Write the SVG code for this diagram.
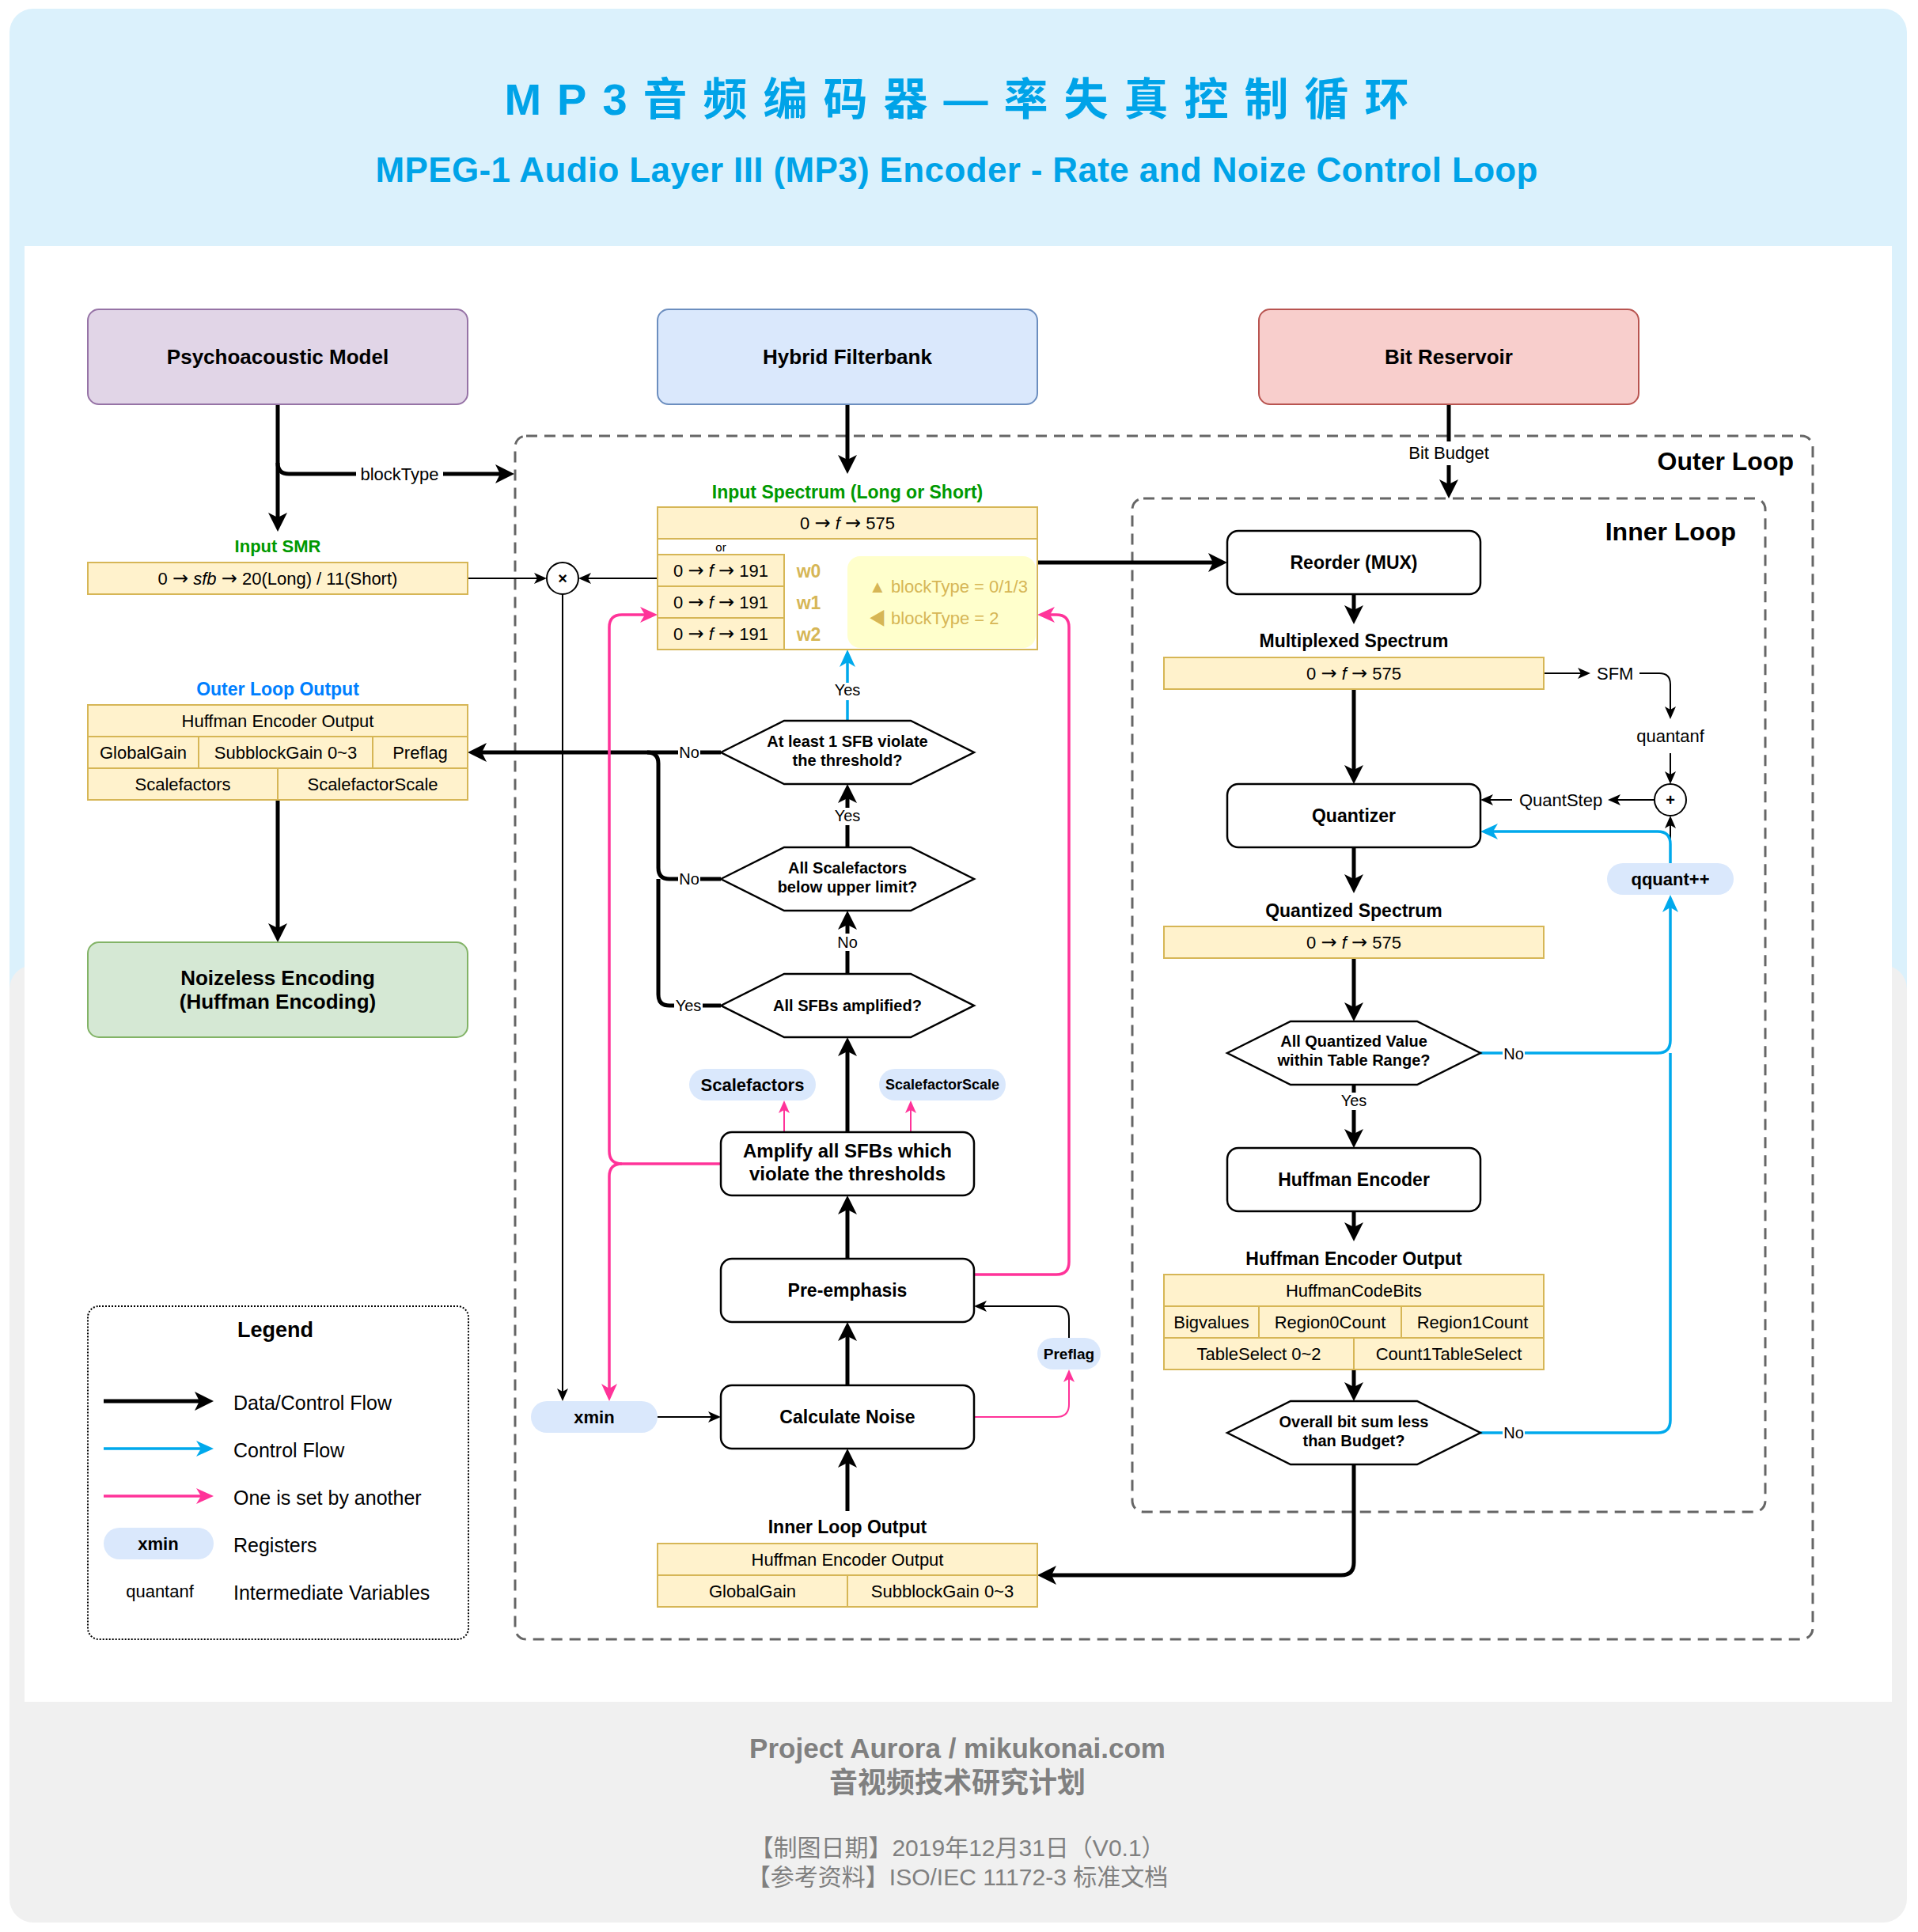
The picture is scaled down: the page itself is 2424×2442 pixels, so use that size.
<svg xmlns="http://www.w3.org/2000/svg" width="2424" height="2442" viewBox="0 0 2424 2442">
<style>
text{font-family:"Liberation Sans",Arial,"Noto Sans CJK SC",sans-serif;fill:#000}
.m{text-anchor:middle}
.b{font-weight:bold}
.s18{font-size:18px}
.s20{font-size:20px}
.s22{font-size:22px}
.s23{font-size:23px}
.s25{font-size:25px}
.s26{font-size:26px}
.s32{font-size:32px}
.ar{font-family:"DejaVu Sans",sans-serif;font-size:24px;font-style:normal}
.box{fill:#fff;stroke:#000;stroke-width:2.5}
.tbl{fill:#fff2cc;stroke:#d6b656;stroke-width:2}
.reg{fill:#dae8fc}
.lb{fill:#fff}
.ck{fill:none;stroke:#000;stroke-width:5}
.ct{fill:none;stroke:#000;stroke-width:2}
.cb{fill:none;stroke:#00a9ec;stroke-width:3.5}
.cp{fill:none;stroke:#ff3399;stroke-width:3.5}
.cpt{fill:none;stroke:#ff3399;stroke-width:2}
.loop{fill:none;stroke:#666;stroke-width:3;stroke-dasharray:14 9}
.gold{fill:#d6b656}
.ft{fill:#808080;font-family:"Liberation Sans","Noto Sans CJK SC",sans-serif}
</style>
<defs>
<marker id="ak" markerUnits="userSpaceOnUse" markerWidth="26" markerHeight="26" refX="16" refY="12" orient="auto" overflow="visible"><path d="M0,0 L24,12 L0,24 L6,12 z" fill="#000"/></marker>
<marker id="as" markerUnits="userSpaceOnUse" markerWidth="18" markerHeight="16" refX="12" refY="7" orient="auto" overflow="visible"><path d="M0,0 L16,7 L0,14 L4,7 z" fill="#000"/></marker>
<marker id="ab" markerUnits="userSpaceOnUse" markerWidth="24" markerHeight="22" refX="16" refY="10" orient="auto" overflow="visible"><path d="M0,0 L22,10 L0,20 L6,10 z" fill="#00a9ec"/></marker>
<marker id="ap" markerUnits="userSpaceOnUse" markerWidth="24" markerHeight="22" refX="16" refY="10" orient="auto" overflow="visible"><path d="M0,0 L22,10 L0,20 L6,10 z" fill="#ff3399"/></marker>
<marker id="aps" markerUnits="userSpaceOnUse" markerWidth="18" markerHeight="16" refX="12" refY="7" orient="auto" overflow="visible"><path d="M0,0 L16,7 L0,14 L4,7 z" fill="#ff3399"/></marker>
</defs>

<g id="background">
<rect x="0" y="0" width="2424" height="2442" fill="#fff"/>
<rect x="12" y="11" width="2398" height="1300" rx="30" fill="#dbf1fc"/>
<rect x="12" y="1220" width="2398" height="1210" rx="30" fill="#f0f0f0"/>
<rect x="31" y="311" width="2360" height="1840" fill="#fff"/>
</g>

<g id="title">
<text x="1219" y="145" class="m b" style="font-size:56px;letter-spacing:20px;fill:#00a3e8;font-family:'Liberation Sans','Noto Sans CJK SC',sans-serif">MP3音频编码器—率失真控制循环</text>
<text x="1209" y="230" class="m b" style="font-size:44px;fill:#00a3e8" textLength="1469" lengthAdjust="spacing">MPEG-1 Audio Layer III (MP3) Encoder - Rate and Noize Control Loop</text>
</g>

<g id="outer-loop">
<rect x="651" y="551" width="1640" height="1521" rx="14" class="loop"/>
<text x="2267" y="594" class="b s32" text-anchor="end">Outer Loop</text>
</g>
<g id="inner-loop">
<rect x="1431" y="630" width="800" height="1281" rx="14" class="loop"/>
<text x="2194" y="683" class="b s32" text-anchor="end">Inner Loop</text>
</g>

<g id="connectors">
<path class="ck" d="M351,511 V664" marker-end="url(#ak)"/>
<path class="ck" d="M351,585 Q351,599 365,599 H642" marker-end="url(#ak)"/>
<path class="ct" d="M591,731 H687" marker-end="url(#as)"/>
<path class="ct" d="M831,731 H735" marker-end="url(#as)"/>
<path class="ct" d="M711,751 V1767" marker-end="url(#as)"/>
<path class="ck" d="M1071,511 V591" marker-end="url(#ak)"/>
<path class="cb" d="M1071,911 V827" marker-end="url(#ab)"/>
<path class="ck" d="M911,951 H599" marker-end="url(#ak)"/>
<path class="ck" d="M911,1111 H846 Q832,1111 832,1097 V965 Q832,951 818,951"/>
<path class="ck" d="M911,1271 H846 Q832,1271 832,1257 V1111"/>
<path class="ck" d="M1071,1071 V999" marker-end="url(#ak)"/>
<path class="ck" d="M1071,1231 V1159" marker-end="url(#ak)"/>
<path class="ck" d="M1071,1431 V1319" marker-end="url(#ak)"/>
<path class="ck" d="M1071,1591 V1519" marker-end="url(#ak)"/>
<path class="ck" d="M1071,1751 V1679" marker-end="url(#ak)"/>
<path class="ck" d="M1071,1910 V1839" marker-end="url(#ak)"/>
<path class="ct" d="M831,1791 H907" marker-end="url(#as)"/>
<path class="cpt" d="M991,1431 V1395" marker-end="url(#aps)"/>
<path class="cpt" d="M1151,1431 V1395" marker-end="url(#aps)"/>
<path class="cp" d="M911,1471 H786 Q770,1471 770,1455 V793 Q770,777 786,777 H825" marker-end="url(#ap)"/>
<path class="cp" d="M786,1471 Q770,1471 770,1487 V1765" marker-end="url(#ap)"/>
<path class="cp" d="M1231,1611 H1335 Q1351,1611 1351,1595 V793 Q1351,777 1335,777 H1317" marker-end="url(#ap)"/>
<path class="ct" d="M1351,1691 V1667 Q1351,1651 1335,1651 H1235" marker-end="url(#as)"/>
<path class="cpt" d="M1231,1791 H1335 Q1351,1791 1351,1775 V1735" marker-end="url(#aps)"/>
<path class="ck" d="M1311,711 H1543" marker-end="url(#ak)"/>
<path class="ck" d="M1831,511 V622" marker-end="url(#ak)"/>
<path class="ck" d="M1711,751 V781" marker-end="url(#ak)"/>
<path class="ck" d="M1711,871 V983" marker-end="url(#ak)"/>
<path class="ct" d="M1951,851 H2006" marker-end="url(#as)"/>
<path class="ct" d="M2072,851 H2097 Q2111,851 2111,865 V905" marker-end="url(#as)"/>
<path class="ct" d="M2111,952 V987" marker-end="url(#as)"/>
<path class="ct" d="M2091,1011 H2036" marker-end="url(#as)"/>
<path class="ct" d="M1911,1011 H1875" marker-end="url(#as)"/>
<path class="ct" d="M2111,1091 V1035" marker-end="url(#as)"/>
<path class="cb" d="M2111,1091 V1067 Q2111,1051 2095,1051 H1877" marker-end="url(#ab)"/>
<path class="cb" d="M1871,1331 H2095 Q2111,1331 2111,1315 V1137" marker-end="url(#ab)"/>
<path class="cb" d="M1871,1811 H2095 Q2111,1811 2111,1795 V1331"/>
<path class="ck" d="M1711,1071 V1121" marker-end="url(#ak)"/>
<path class="ck" d="M1711,1211 V1283" marker-end="url(#ak)"/>
<path class="ck" d="M1711,1371 V1443" marker-end="url(#ak)"/>
<path class="ck" d="M1711,1531 V1561" marker-end="url(#ak)"/>
<path class="ck" d="M1711,1731 V1763" marker-end="url(#ak)"/>
<path class="ck" d="M1711,1851 V1975 Q1711,1991 1695,1991 H1319" marker-end="url(#ak)"/>
<path class="ck" d="M351,1011 V1183" marker-end="url(#ak)"/>
</g>

<g id="connector-labels">
<rect class="lb" x="450" y="588" width="110" height="24"/>
<text x="505" y="607" class="m s22">blockType</text>
<rect class="lb" x="1053" y="863" width="36" height="22"/>
<text x="1071" y="879" class="m s20">Yes</text>
<rect class="lb" x="857" y="940" width="28" height="22"/>
<text x="871" y="958" class="m s20">No</text>
<rect class="lb" x="857" y="1100" width="28" height="22"/>
<text x="871" y="1118" class="m s20">No</text>
<rect class="lb" x="852" y="1260" width="36" height="22"/>
<text x="870" y="1278" class="m s20">Yes</text>
<rect class="lb" x="1053" y="1021" width="36" height="22"/>
<text x="1071" y="1038" class="m s20">Yes</text>
<rect class="lb" x="1057" y="1180" width="28" height="22"/>
<text x="1071" y="1198" class="m s20">No</text>
<rect class="lb" x="1776" y="558" width="112" height="30"/>
<text x="1831" y="580" class="m s22">Bit Budget</text>
<text x="2018" y="859" class="s22">SFM</text>
<text x="2111" y="938" class="m s22">quantanf</text>
<text x="1920" y="1019" class="s22">QuantStep</text>
<rect class="lb" x="1899" y="1321" width="28" height="22"/>
<text x="1913" y="1339" class="m s20">No</text>
<rect class="lb" x="1693" y="1381" width="36" height="22"/>
<text x="1711" y="1398" class="m s20">Yes</text>
<rect class="lb" x="1899" y="1801" width="28" height="22"/>
<text x="1913" y="1818" class="m s20">No</text>
</g>

<g id="psychoacoustic-model">
<rect x="111" y="391" width="480" height="120" rx="14" fill="#e1d5e7" stroke="#9673a6" stroke-width="2"/>
<text x="351" y="460" class="m b s26">Psychoacoustic Model</text>
</g>
<g id="hybrid-filterbank">
<rect x="831" y="391" width="480" height="120" rx="14" fill="#dae8fc" stroke="#6c8ebf" stroke-width="2"/>
<text x="1071" y="460" class="m b s26">Hybrid Filterbank</text>
</g>
<g id="bit-reservoir">
<rect x="1591" y="391" width="480" height="120" rx="14" fill="#f8cecc" stroke="#b85450" stroke-width="2"/>
<text x="1831" y="460" class="m b s26">Bit Reservoir</text>
</g>

<g id="input-smr">
<text x="351" y="698" class="m b s22" style="fill:#009900">Input SMR</text>
<rect x="111" y="711" width="480" height="40" class="tbl"/>
<text x="351" y="739" class="m s22">0 <tspan class="ar">→</tspan> <tspan font-style="italic">sfb</tspan> <tspan class="ar">→</tspan> 20(Long) / 11(Short)</text>
</g>

<g id="multiply">
<circle cx="711" cy="731" r="20" fill="#fff" stroke="#000" stroke-width="2"/>
<text x="711" y="738" class="m b s20">×</text>
</g>

<g id="input-spectrum">
<text x="1071" y="630" class="m b s23" style="fill:#009900">Input Spectrum (Long or Short)</text>
<rect x="831" y="641" width="480" height="180" fill="#fff" stroke="#d6b656" stroke-width="2"/>
<rect x="831" y="641" width="480" height="40" class="tbl"/>
<text x="1071" y="669" class="m s22">0 <tspan class="ar">→</tspan> <tspan font-style="italic">f</tspan> <tspan class="ar">→</tspan> 575</text>
<text x="911" y="697" class="m" style="font-size:15px">or</text>
<rect x="831" y="701" width="160" height="40" class="tbl"/>
<rect x="831" y="741" width="160" height="40" class="tbl"/>
<rect x="831" y="781" width="160" height="40" class="tbl"/>
<text x="911" y="729" class="m s22">0 <tspan class="ar">→</tspan> <tspan font-style="italic">f</tspan> <tspan class="ar">→</tspan> 191</text>
<text x="911" y="769" class="m s22">0 <tspan class="ar">→</tspan> <tspan font-style="italic">f</tspan> <tspan class="ar">→</tspan> 191</text>
<text x="911" y="809" class="m s22">0 <tspan class="ar">→</tspan> <tspan font-style="italic">f</tspan> <tspan class="ar">→</tspan> 191</text>
<text x="1022" y="730" class="m b s23 gold">w0</text>
<text x="1022" y="770" class="m b s23 gold">w1</text>
<text x="1022" y="810" class="m b s23 gold">w2</text>
<rect x="1071" y="703" width="238" height="116" rx="16" fill="#ffffcc"/>
<text x="1098" y="749" class="s22 gold">▲ blockType = 0/1/3</text>
<text x="1098" y="789" class="s22 gold">◀ blockType = 2</text>
</g>

<g id="decision-violate">
<polygon points="911,951 991,911 1151,911 1231,951 1151,991 991,991" class="box"/>
<text x="1071" y="944" class="m b s20">At least 1 SFB violate</text>
<text x="1071" y="968" class="m b s20">the threshold?</text>
</g>
<g id="decision-upper-limit">
<polygon points="911,1111 991,1071 1151,1071 1231,1111 1151,1151 991,1151" class="box"/>
<text x="1071" y="1104" class="m b s20">All Scalefactors</text>
<text x="1071" y="1128" class="m b s20">below upper limit?</text>
</g>
<g id="decision-amplified">
<polygon points="911,1271 991,1231 1151,1231 1231,1271 1151,1311 991,1311" class="box"/>
<text x="1071" y="1278" class="m b s20">All SFBs amplified?</text>
</g>

<g id="reg-scalefactors">
<rect x="871" y="1351" width="160" height="40" rx="20" class="reg"/>
<text x="951" y="1379" class="m b s22">Scalefactors</text>
</g>
<g id="reg-scalefactorscale">
<rect x="1111" y="1351" width="160" height="40" rx="20" class="reg"/>
<text x="1191" y="1377" class="m b s18">ScalefactorScale</text>
</g>

<g id="amplify">
<rect x="911" y="1431" width="320" height="80" rx="14" class="box"/>
<text x="1071" y="1463" class="m b" style="font-size:24px">Amplify all SFBs which</text>
<text x="1071" y="1492" class="m b" style="font-size:24px">violate the thresholds</text>
</g>
<g id="pre-emphasis">
<rect x="911" y="1591" width="320" height="80" rx="14" class="box"/>
<text x="1071" y="1639" class="m b s23">Pre-emphasis</text>
</g>
<g id="calculate-noise">
<rect x="911" y="1751" width="320" height="80" rx="14" class="box"/>
<text x="1071" y="1799" class="m b s23">Calculate Noise</text>
</g>
<g id="reg-xmin">
<rect x="671" y="1771" width="160" height="40" rx="20" class="reg"/>
<text x="751" y="1799" class="m b s22">xmin</text>
</g>
<g id="reg-preflag">
<rect x="1311" y="1691" width="80" height="40" rx="20" class="reg"/>
<text x="1351" y="1718" class="m b" style="font-size:19px">Preflag</text>
</g>

<g id="inner-loop-output">
<text x="1071" y="1938" class="m b s23">Inner Loop Output</text>
<rect x="831" y="1951" width="480" height="40" class="tbl"/>
<rect x="831" y="1991" width="240" height="40" class="tbl"/>
<rect x="1071" y="1991" width="240" height="40" class="tbl"/>
<text x="1071" y="1979" class="m s22">Huffman Encoder Output</text>
<text x="951" y="2019" class="m s22">GlobalGain</text>
<text x="1191" y="2019" class="m s22">SubblockGain 0~3</text>
</g>

<g id="outer-loop-output">
<text x="351" y="879" class="m b s23" style="fill:#007fff">Outer Loop Output</text>
<rect x="111" y="891" width="480" height="40" class="tbl"/>
<rect x="111" y="931" width="140" height="40" class="tbl"/>
<rect x="251" y="931" width="220" height="40" class="tbl"/>
<rect x="471" y="931" width="120" height="40" class="tbl"/>
<rect x="111" y="971" width="240" height="40" class="tbl"/>
<rect x="351" y="971" width="240" height="40" class="tbl"/>
<text x="351" y="919" class="m s22">Huffman Encoder Output</text>
<text x="181" y="959" class="m s22">GlobalGain</text>
<text x="361" y="959" class="m s22">SubblockGain 0~3</text>
<text x="531" y="959" class="m s22">Preflag</text>
<text x="231" y="999" class="m s22">Scalefactors</text>
<text x="471" y="999" class="m s22">ScalefactorScale</text>
</g>

<g id="noizeless-encoding">
<rect x="111" y="1191" width="480" height="120" rx="14" fill="#d5e8d4" stroke="#82b366" stroke-width="2"/>
<text x="351" y="1245" class="m b s26">Noizeless Encoding</text>
<text x="351" y="1275" class="m b s26">(Huffman Encoding)</text>
</g>

<g id="reorder">
<rect x="1551" y="671" width="320" height="80" rx="14" class="box"/>
<text x="1711" y="719" class="m b s23">Reorder (MUX)</text>
</g>
<g id="multiplexed-spectrum">
<text x="1711" y="818" class="m b s23">Multiplexed Spectrum</text>
<rect x="1471" y="831" width="480" height="40" class="tbl"/>
<text x="1711" y="859" class="m s22">0 <tspan class="ar">→</tspan> <tspan font-style="italic">f</tspan> <tspan class="ar">→</tspan> 575</text>
</g>
<g id="plus">
<circle cx="2111" cy="1011" r="20" fill="#fff" stroke="#000" stroke-width="2"/>
<text x="2111" y="1018" class="m b s20">+</text>
</g>
<g id="quantizer">
<rect x="1551" y="991" width="320" height="80" rx="14" class="box"/>
<text x="1711" y="1039" class="m b s23">Quantizer</text>
</g>
<g id="reg-qquant">
<rect x="2031" y="1091" width="160" height="40" rx="20" class="reg"/>
<text x="2111" y="1119" class="m b s22">qquant++</text>
</g>
<g id="quantized-spectrum">
<text x="1711" y="1159" class="m b s23">Quantized Spectrum</text>
<rect x="1471" y="1171" width="480" height="40" class="tbl"/>
<text x="1711" y="1199" class="m s22">0 <tspan class="ar">→</tspan> <tspan font-style="italic">f</tspan> <tspan class="ar">→</tspan> 575</text>
</g>
<g id="decision-table-range">
<polygon points="1551,1331 1631,1291 1791,1291 1871,1331 1791,1371 1631,1371" class="box"/>
<text x="1711" y="1323" class="m b s20">All Quantized Value</text>
<text x="1711" y="1347" class="m b s20">within Table Range?</text>
</g>
<g id="huffman-encoder">
<rect x="1551" y="1451" width="320" height="80" rx="14" class="box"/>
<text x="1711" y="1499" class="m b s23">Huffman Encoder</text>
</g>
<g id="huffman-encoder-output">
<text x="1711" y="1599" class="m b s23">Huffman Encoder Output</text>
<rect x="1471" y="1611" width="480" height="40" class="tbl"/>
<rect x="1471" y="1651" width="120" height="40" class="tbl"/>
<rect x="1591" y="1651" width="180" height="40" class="tbl"/>
<rect x="1771" y="1651" width="180" height="40" class="tbl"/>
<rect x="1471" y="1691" width="240" height="40" class="tbl"/>
<rect x="1711" y="1691" width="240" height="40" class="tbl"/>
<text x="1711" y="1639" class="m s22">HuffmanCodeBits</text>
<text x="1531" y="1679" class="m s22">Bigvalues</text>
<text x="1681" y="1679" class="m s22">Region0Count</text>
<text x="1861" y="1679" class="m s22">Region1Count</text>
<text x="1591" y="1719" class="m s22">TableSelect 0~2</text>
<text x="1831" y="1719" class="m s22">Count1TableSelect</text>
</g>
<g id="decision-budget">
<polygon points="1551,1811 1631,1771 1791,1771 1871,1811 1791,1851 1631,1851" class="box"/>
<text x="1711" y="1804" class="m b s20">Overall bit sum less</text>
<text x="1711" y="1828" class="m b s20">than Budget?</text>
</g>

<g id="legend">
<rect x="111" y="1651" width="481" height="421" rx="14" fill="none" stroke="#000" stroke-width="2" stroke-dasharray="2 2"/>
<text x="348" y="1690" class="m b" style="font-size:27px">Legend</text>
<path class="ck" d="M131,1771 H262" marker-end="url(#ak)"/>
<path class="cb" d="M131,1831 H264" marker-end="url(#ab)"/>
<path class="cp" d="M131,1891 H264" marker-end="url(#ap)"/>
<rect x="131" y="1931" width="139" height="40" rx="20" class="reg"/>
<text x="200" y="1959" class="m b s22">xmin</text>
<text x="202" y="2019" class="m s22">quantanf</text>
<text x="295" y="1782" class="s25">Data/Control Flow</text>
<text x="295" y="1842" class="s25">Control Flow</text>
<text x="295" y="1902" class="s25">One is set by another</text>
<text x="295" y="1962" class="s25">Registers</text>
<text x="295" y="2022" class="s25">Intermediate Variables</text>
</g>

<g id="footer">
<text x="1210" y="2222" class="m b ft" style="font-size:35px">Project Aurora / mikukonai.com</text>
<text x="1210" y="2266" class="m b ft" style="font-size:36px">音视频技术研究计划</text>
<text x="1210" y="2346" class="m ft" style="font-size:30px">【制图日期】2019年12月31日（V0.1）</text>
<text x="1210" y="2383" class="m ft" style="font-size:30px">【参考资料】ISO/IEC 11172-3 标准文档</text>
</g>
</svg>
